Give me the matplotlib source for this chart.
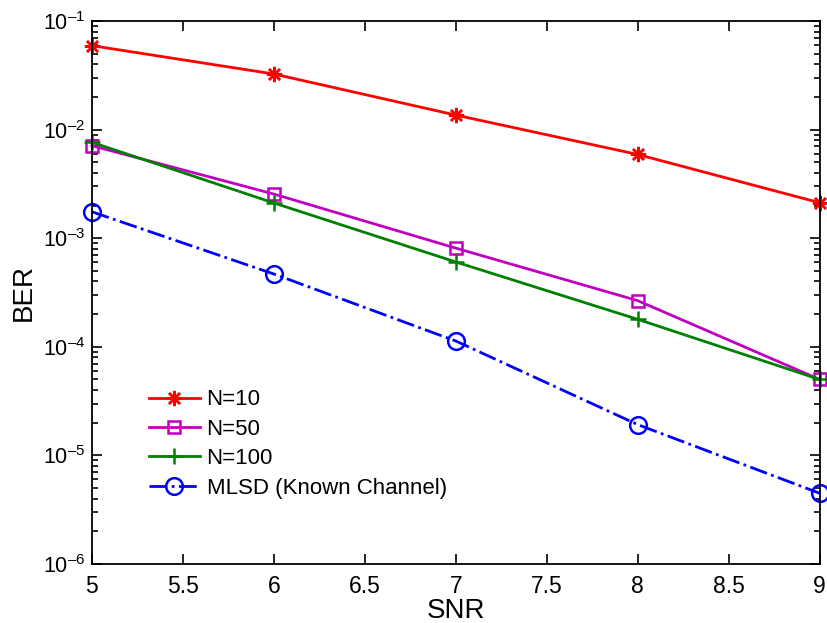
import matplotlib
matplotlib.use("Agg")
import matplotlib.pyplot as plt
import numpy as np

plt.rcParams['font.family'] = ['Liberation Sans', 'DejaVu Sans']
plt.rcParams['mathtext.fontset'] = 'custom'
plt.rcParams['mathtext.rm'] = 'Liberation Sans'
plt.rcParams['mathtext.it'] = 'Liberation Sans'

snr = [5, 6, 7, 8, 9]
ber_n10 = [0.0593, 0.0325, 0.0136, 0.0059, 0.00212]
ber_n50 = [0.00711, 0.00255, 0.00081, 0.000266, 5.0e-5]
ber_n100 = [0.00764, 0.00211, 0.000604, 0.000179, 5.0e-5]
ber_mlsd = [0.00175, 0.000468, 0.000113, 1.92e-5, 4.48e-6]
xtick_labels = ['5', '5.5', '6', '6.5', '7', '7.5', '8', '8.5', '9']
ytick_exps = [-6, -5, -4, -3, -2, -1]

fig = plt.figure(figsize=(8.28, 6.23), dpi=100)
ax = fig.add_axes([0.111, 0.0947, 0.879, 0.8716])

ax.semilogy(snr, ber_n10, '-', color='red', lw=2, marker=(8, 2, 0), ms=11, mew=1.8, label='N=10', clip_on=False)
ax.semilogy(snr, ber_n50, '-', color='#c000c0', lw=2, marker='s', ms=9, mfc='none', mew=1.8, label='N=50', clip_on=False)
ax.semilogy(snr, ber_n100, '-', color='#008000', lw=2, marker='+', ms=11, mew=1.8, label='N=100', clip_on=False)
ax.semilogy(snr, ber_mlsd, '-.', color='blue', lw=2, marker='o', ms=12, mfc='none', mew=1.8,
            label='MLSD (Known Channel)', clip_on=False)

ax.set_xlim(5, 9)
ax.set_ylim(1e-6, 1e-1)
ax.set_xticks(np.arange(5, 9.01, 0.5))
ax.set_xticklabels(xtick_labels)
ax.set_yticks([10.0 ** e for e in ytick_exps])
ax.set_yticklabels(['$\\mathregular{10^{\u2013%d}}$' % (-e) for e in ytick_exps])
ax.tick_params(which='both', direction='in', top=True, right=True, width=1.2)
ax.tick_params(axis='x', pad=8, labelsize=16.5)
ax.tick_params(axis='y', pad=5, labelsize=15.5)
ax.tick_params(which='major', length=7)
ax.tick_params(which='minor', length=4)
for s in ax.spines.values():
    s.set_linewidth(1.3)

ax.set_xlabel('SNR', fontsize=20, labelpad=0)
ax.set_ylabel('BER', fontsize=20, labelpad=4)

ax.legend(loc='lower left', bbox_to_anchor=(0.066, 0.104), frameon=False, fontsize=16,
          handlelength=2.3, handletextpad=0.3, labelspacing=0.38, borderaxespad=0)

fig.savefig('out.png', dpi=100)
